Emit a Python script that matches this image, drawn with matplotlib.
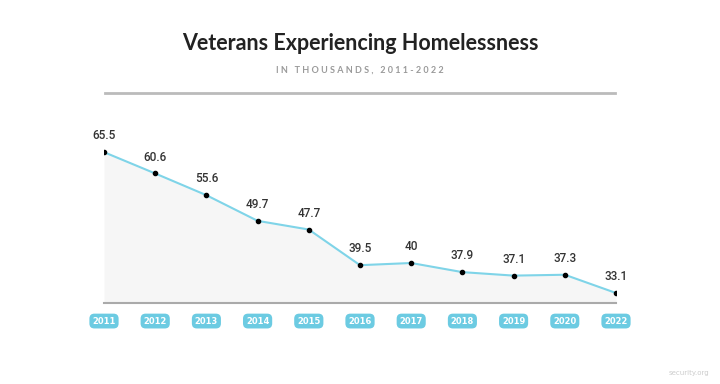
import matplotlib.pyplot as plt
import numpy as np

# data
years = ["2011", "2012", "2013", "2014", "2015", "2016", "2017", "2018", "2019", "2020", "2022"]
veterans = [65.5, 60.6, 55.6, 49.7, 47.7, 39.5, 40, 37.9, 37.1, 37.3, 33.1]
value_labels = ["65.5", "60.6", "55.6", "49.7", "47.7", "39.5", "40", "37.9", "37.1", "37.3", "33.1"]

title = "Veterans Experiencing Homelessness"
subtitle = "IN THOUSANDS, 2011-2022"

line_color = "#7fd4e8"
pill_color = "#6ccbe2"

fig = plt.figure(figsize=(7.2, 3.84), dpi=100)
fig.patch.set_facecolor("white")

# header
fig.text(0.5, 1 - 44 / 384, title, ha="center", va="center",
         fontsize=15.5, fontweight="bold", color="#222222", family=["Lato", "DejaVu Sans"])
# letter-spaced subtitle
fig.text(0.5, 1 - 70 / 384, " ".join(subtitle), ha="center", va="center",
         fontsize=6.5, fontweight="bold", color="#9a9a9a", family=["Lato", "DejaVu Sans"])
fig.add_artist(plt.Line2D([105 / 720, 615 / 720], [1 - 93 / 384] * 2,
                          color="#bbbbbb", lw=2, transform=fig.transFigure))

# plot area
ax = fig.add_axes([104 / 720, 1 - 303 / 384, 512 / 720, 193 / 384])
x = np.arange(len(years))
y_base = 30.8
ax.set_xlim(0, len(years) - 1)
ax.set_ylim(y_base, 75.2)
ax.axis("off")

ax.fill_between(x, veterans, y_base, color="#f6f6f6", lw=0)
ax.plot(x, veterans, color=line_color, lw=1.5, zorder=2)
ax.plot(x, veterans, "o", color="black", ms=3, zorder=3)
ax.axhline(y_base, color="#aaaaaa", lw=1.5, clip_on=False)

for xi, v, lab in zip(x, veterans, value_labels):
    ax.annotate(lab, (xi, v), xytext=(0, 7), textcoords="offset points",
                ha="center", va="bottom", fontsize=8.5, color="#333333",
                family=["Liberation Sans Narrow", "Roboto"], fontweight="medium")

for xi, yr in zip(x, years):
    ax.annotate(yr, (xi, y_base), xytext=(0, -13), textcoords="offset points",
                ha="center", va="center", fontsize=6, color="white", fontweight="bold",
                annotation_clip=False,
                bbox=dict(boxstyle="round,pad=0.35,rounding_size=0.6", fc=pill_color, ec="none"))

fig.text(0.985, 0.02, "security.org", ha="right", va="bottom", fontsize=5, color="#cccccc")

fig.savefig("out.png", dpi=100)
